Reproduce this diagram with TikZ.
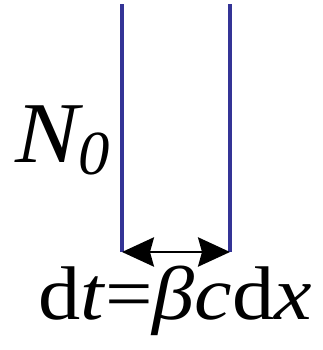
\documentclass[tikz,border=0pt]{standalone}
\usepackage{fontspec}
\setmainfont{Liberation Serif}
\usetikzlibrary{arrows.meta}
\definecolor{lineblue}{RGB}{52,52,150}
\begin{document}
\begin{tikzpicture}[x=0.75pt,y=-0.75pt,
  wall/.style={draw=lineblue,line width=2.4pt},
  span/.style={draw=black,line width=1.6pt,{Stealth[length=24pt,width=22pt,inset=3pt]}-{Stealth[length=24pt,width=22pt,inset=3pt]}},
  lbl/.style={inner sep=0pt,outer sep=0pt}]
\useasboundingbox (0,0) rectangle (322,350);
\coordinate (lt) at (122,4);
\coordinate (lb) at (122,252);
\coordinate (rt) at (230,4);
\coordinate (rb) at (230,252);
\draw[wall] (lt) -- (lb);
\draw[wall] (rt) -- (rb);
\draw[span] (lb) -- (rb);
\node[lbl,anchor=base west] (n0) at (15,162) {\scalebox{1.1}[1]{\fontsize{65}{65}\selectfont\itshape N}\raisebox{-9pt}{\fontsize{47}{47}\selectfont\itshape 0}};
\node[lbl,anchor=base west] (eq) at (38,319) {\scalebox{1.11}[1]{\fontsize{57}{57}\selectfont d\textit{t}=\textit{βc}d\textit{x}}};
\end{tikzpicture}
\end{document}
